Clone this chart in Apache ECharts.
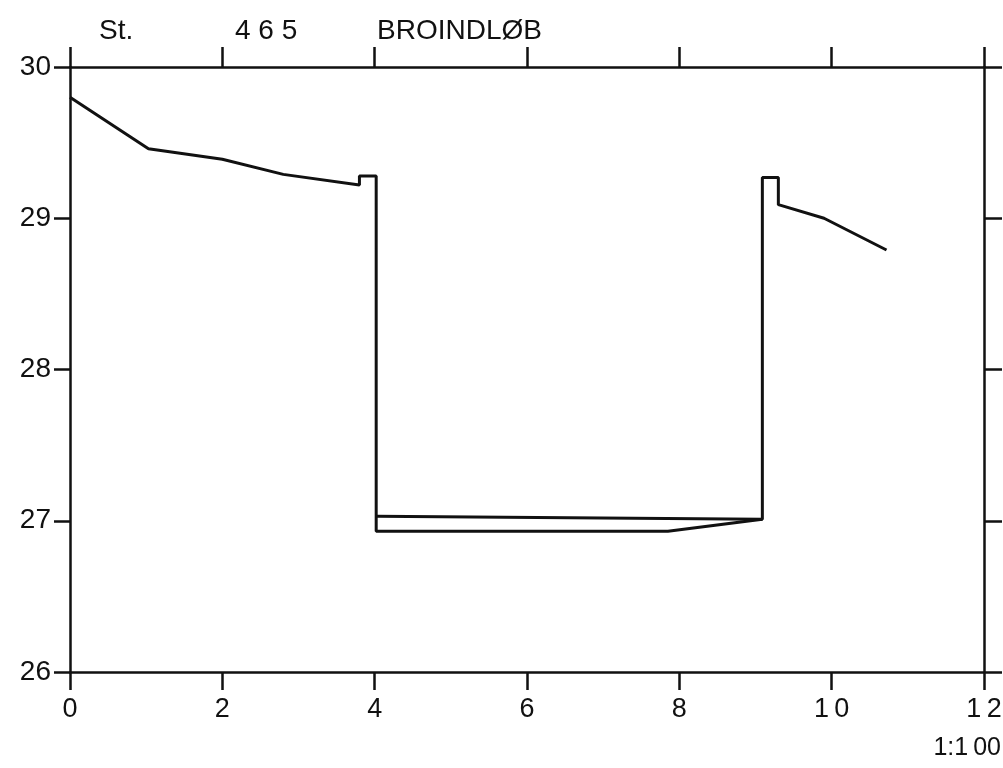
<!DOCTYPE html>
<html lang="da">
<head>
  <meta charset="UTF-8">
  <script src="https://cdn.jsdelivr.net/npm/echarts@6/dist/echarts.min.js"></script>
  <title>St. 465 BROINDLØB</title>
  <style>
    body { margin: 0; background: #fff; }
    #main { width: 1003px; height: 768px; }
  </style>
</head>
<body>
  <div id="main"></div>
  <script>
    // profil langs broindløbet (afstand, kote)
    var profileX = [0, 1.03, 2.0, 2.8, 3.8, 3.8, 4.02, 4.02, 7.85, 9.09, 9.09, 9.3, 9.3, 9.9, 10.72]
    var profileY = [29.8, 29.46, 29.39, 29.29, 29.22, 29.28, 29.28, 26.93, 26.93, 27.01, 29.27, 29.27, 29.09, 29.0, 28.79]
    // øverste bundlinje i indløbet
    var innerX = [4.02, 9.09]
    var innerY = [27.03, 27.01]

    var xTicks = [0, 2, 4, 6, 8, 10, 12]
    var yTicks = [26, 27, 28, 29, 30]

    var pairs = (xs, ys) => xs.map((x, i) => [x, ys[i]])
    // x-aksen har lidt luft mellem cifrene
    var spaced = v => String(v).split('').join('\u2009')

    var font = '"Liberation Sans", Arial, sans-serif'
    var ink = '#111'
    var lineStyle = { color: ink, width: 2.5 }
    var titleStyle = { fontSize: 28, fontWeight: 'normal', color: ink, fontFamily: font }

    var chart = echarts.init(document.getElementById('main'), null, { renderer: 'canvas' })

    var option = {
      backgroundColor: '#fff',
      animation: false,
      textStyle: { fontFamily: font, color: ink },
      title: [
        { text: 'St.', left: 94, top: 12, textStyle: titleStyle },
        { text: '4 6 5', left: 230, top: 12, textStyle: titleStyle },
        { text: 'BROINDLØB', left: 372, top: 12, textStyle: titleStyle },
        { text: '1:1\u200900', right: 2, top: 736, padding: 0, textStyle: { ...titleStyle, fontSize: 25 } }
      ],
      grid: { left: 70, right: 19, top: 67, bottom: 96, containLabel: false, outerBoundsMode: 'none' },
      xAxis: [{
        type: 'value', position: 'bottom', min: xTicks[0], max: xTicks[xTicks.length - 1], interval: 2,
        axisLine: { lineStyle: lineStyle },
        axisTick: { inside: false, length: 18, lineStyle: lineStyle },
        axisLabel: {
          color: ink, fontSize: 27, fontFamily: font, margin: 24,
          formatter: v => xTicks.includes(v) ? spaced(v) : ''
        },
        splitLine: { show: false }
      }, {
        type: 'value', position: 'top', min: xTicks[0], max: xTicks[xTicks.length - 1], interval: 2,
        axisLine: { onZero: false, lineStyle: lineStyle },
        axisTick: { inside: false, length: 20, lineStyle: lineStyle },
        axisLabel: { show: false },
        splitLine: { show: false }
      }],
      yAxis: [{
        type: 'value', position: 'left', min: yTicks[0], max: yTicks[yTicks.length - 1], interval: 1,
        axisLine: { show: true, onZero: false, lineStyle: lineStyle },
        axisTick: { show: true, inside: false, length: 16, lineStyle: lineStyle },
        axisLabel: { color: ink, fontSize: 28, fontFamily: font, margin: 19 },
        splitLine: { show: false }
      }, {
        type: 'value', position: 'right', min: yTicks[0], max: yTicks[yTicks.length - 1], interval: 1,
        axisLine: { show: true, onZero: false, lineStyle: lineStyle },
        axisTick: { show: true, inside: false, length: 18, lineStyle: lineStyle },
        axisLabel: { show: false },
        splitLine: { show: false }
      }],
      series: [{
        type: 'line', data: pairs(profileX, profileY), symbol: 'none',
        lineStyle: { color: ink, width: 3 }, silent: true
      }, {
        type: 'line', data: pairs(innerX, innerY), symbol: 'none',
        lineStyle: { color: ink, width: 3 }, silent: true
      }]
    }

    chart.setOption(option)
  </script>
</body>
</html>
